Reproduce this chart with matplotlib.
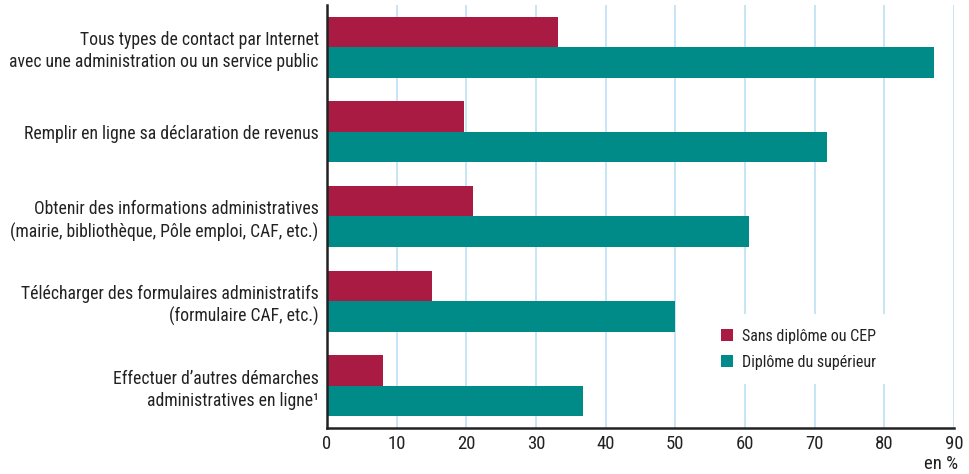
import matplotlib.pyplot as plt
import numpy as np
from matplotlib import font_manager

# pick a condensed sans if one is installed, else plain Liberation Sans
names = {f.name for f in font_manager.fontManager.ttflist}
narrow = None
for cand in ['Liberation Sans Narrow', 'Roboto Condensed', 'Open Sans Condensed',
             'Noto Sans Condensed', 'DejaVu Sans Condensed']:
    if cand in names:
        narrow = cand
        break
if narrow is None:
    narrow = 'Liberation Sans'
    lab_size, tick_size, leg_size = 11.3, 12.5, 10.5
else:
    lab_size, tick_size, leg_size = 12.7, 13.5, 11.5
plt.rcParams['font.family'] = [narrow, 'DejaVu Sans']

categories = [
    "Tous types de contact par Internet\navec une administration ou un service public",
    "Remplir en ligne sa déclaration de revenus",
    "Obtenir des informations administratives\n(mairie, bibliothèque, Pôle emploi, CAF, etc.)",
    "Télécharger des formulaires administratifs\n(formulaire CAF, etc.)",
    "Effectuer d’autres démarches\nadministratives en ligne¹",
]
sans_diplome = [33.1, 19.7, 21.0, 15.1, 8.0]
diplome_sup = [87.2, 71.7, 60.6, 49.9, 36.7]
series_labels = ["Sans diplôme ou CEP", "Diplôme du supérieur"]
xticks = [0, 10, 20, 30, 40, 50, 60, 70, 80, 90]

red = '#AA1B43'
teal = '#008A88'
grid_col = '#BEE0F3'
txt = '#222222'

fig = plt.figure(figsize=(9.69, 4.74), dpi=100)
ax = fig.add_axes([0.3375, 0.097, 0.647, 0.8925])

y = np.arange(len(categories))
h = 0.36
ax.barh(y - h / 2, sans_diplome, height=h, color=red, label=series_labels[0], zorder=3)
ax.barh(y + h / 2, diplome_sup, height=h, color=teal, label=series_labels[1], zorder=3)

ax.set_xlim(0, 90)
ax.set_ylim(4.5, -0.5)
ax.set_xticks(xticks)
ax.set_yticks(y)
ax.set_yticklabels(categories, fontsize=lab_size, color=txt, linespacing=1.3)
ax.tick_params(axis='x', length=0, pad=5, labelsize=tick_size, labelcolor=txt)
ax.tick_params(axis='y', length=0, pad=6)

ax.xaxis.grid(True, color=grid_col, linewidth=1.2, zorder=0)
ax.set_axisbelow(True)
for s in ['top', 'right']:
    ax.spines[s].set_visible(False)
for s in ['left', 'bottom']:
    ax.spines[s].set_linewidth(1.8)
    ax.spines[s].set_color(txt)
    ax.spines[s].set_zorder(4)

leg = ax.legend(loc='lower left', bbox_to_anchor=(0.592, 0.085), frameon=True,
                facecolor='white', edgecolor='none', framealpha=1,
                fontsize=leg_size, handlelength=0.75, handleheight=0.75,
                handletextpad=0.6, labelspacing=0.7, borderpad=0.9)
leg.set_zorder(5)
for t in leg.get_texts():
    t.set_color(txt)

fig.text(0.989, 0.021, 'en %', ha='right', va='center', fontsize=tick_size, color=txt)

fig.savefig('out.png', dpi=100)
